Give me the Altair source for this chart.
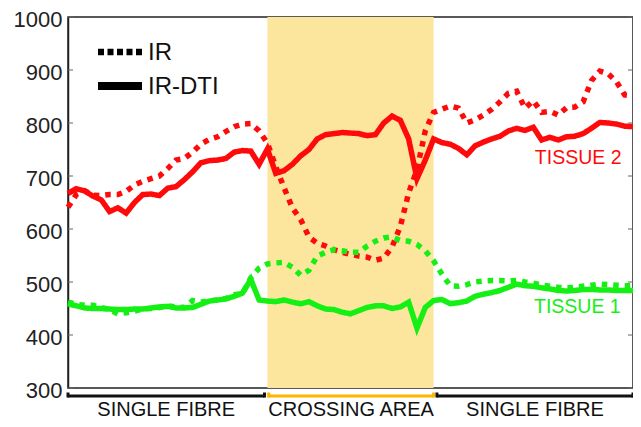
import altair as alt
import pandas as pd

# ---- data ----
idx = list(range(69))

ir_t2 = [641, 665, 672, 664, 663, 665, 665, 671, 683, 690,
         695, 700, 714, 730, 733, 745, 760, 769, 774, 784,
         793, 798, 799, 785, 762, 718, 678, 640, 618, 585,
         573, 568, 561, 556, 552, 549, 547, 541, 545, 566,
         605, 668, 712, 785, 820, 826, 832, 828, 800, 806,
         815, 826, 840, 856, 860, 828, 842, 820, 822, 815,
         829, 830, 840, 880, 898, 893, 878, 853, 851]

irdti_t2 = [667, 676, 672, 662, 655, 633, 640, 630, 650, 665,
            666, 663, 677, 680, 693, 708, 725, 729, 730, 733,
            745, 748, 747, 722, 751, 705, 710, 722, 738, 750,
            770, 778, 780, 782, 781, 780, 776, 778, 800, 813,
            805, 770, 695, 730, 770, 763, 760, 752, 740, 757,
            764, 770, 775, 785, 790, 786, 792, 768, 773, 768,
            774, 775, 780, 790, 801, 800, 798, 794, 793]

ir_t1 = [462, 458, 456, 456, 452, 448, 440, 442, 445, 449,
         450, 452, 455, 453, 452, 465, 462, 465, 466, 469,
         476, 478, 508, 526, 534, 536, 537, 528, 513, 522,
         549, 556, 561, 559, 556, 556, 568, 577, 583, 585,
         578, 577, 571, 559, 540, 515, 493, 492, 495, 500,
         502, 503, 503, 502, 503, 500, 498, 494, 492, 490,
         489, 490, 492, 494, 496, 495, 494, 493, 493]

irdti_t1 = [459, 455, 451, 450, 450, 449, 448, 448, 449, 449,
            451, 453, 454, 451, 451, 452, 458, 464, 466, 468,
            473, 479, 505, 466, 464, 463, 466, 462, 459, 463,
            455, 449, 448, 443, 440, 446, 452, 455, 455, 450,
            453, 462, 413, 452, 465, 467, 459, 461, 464, 473,
            477, 480, 484, 490, 496, 493, 492, 489, 487, 484,
            483, 484, 486, 486, 485, 485, 484, 484, 484]

y_ticks = [300, 400, 500, 600, 700, 800, 900, 1000]

region_labels = ["SINGLE FIBRE", "CROSSING AREA", "SINGLE FIBRE"]
region_start = [0, 24.15, 44.4]
region_end = [23.65, 44.0, 68]
region_colors = ["#111111", "#ffb400", "#111111"]

crossing_start, crossing_end = 24, 44

tissue_labels = ["TISSUE 2", "TISSUE 1"]
tissue_label_x = [61.4, 61.3]
tissue_label_y = [734, 452]

methods = ["IR", "IR-DTI"]
method_dash = [[5.5, 6], [1, 0]]
legend_dash = [[6, 3.5], [1, 0]]
tissues = ["TISSUE 1", "TISSUE 2"]
tissue_colors = ["#14f014", "#ff0a0a"]

# ---- build tables ----
rows = []
for series, method, tissue in [(irdti_t2, "IR-DTI", "TISSUE 2"), (irdti_t1, "IR-DTI", "TISSUE 1"),
                               (ir_t2, "IR", "TISSUE 2"), (ir_t1, "IR", "TISSUE 1")]:
    for i, v in zip(idx, series):
        rows.append({"x": i, "value": v, "method": method, "tissue": tissue,
                     "series": method + " " + tissue})
df = pd.DataFrame(rows)

regions = pd.DataFrame({"label": region_labels, "start": region_start, "end": region_end,
                        "color": region_colors})
regions["mid"] = (regions["start"] + regions["end"]) / 2

shade = pd.DataFrame({"x0": [crossing_start], "x1": [crossing_end]})
ticks_df = pd.DataFrame({"v": y_ticks})
tlabels = pd.DataFrame({"label": tissue_labels, "x": tissue_label_x, "y": tissue_label_y,
                        "tissue": ["TISSUE 2", "TISSUE 1"]})

W, H = 565, 371
FONT = "Liberation Sans"

xs = alt.Scale(domain=[0, 68], nice=False, zero=False)
ys = alt.Scale(domain=[300, 1000], nice=False, zero=False)
cs = alt.Scale(domain=tissues, range=tissue_colors)

shade_layer = alt.Chart(shade).mark_rect(color="#fce59d").encode(
    x=alt.X("x0:Q", scale=xs, axis=None), x2="x1:Q",
    y=alt.value(0), y2=alt.value(H))

lines = alt.Chart(df).mark_line(strokeWidth=5.5, strokeCap="butt", strokeJoin="miter").encode(
    x=alt.X("x:Q", scale=xs, axis=None),
    y=alt.Y("value:Q", scale=ys,
            axis=alt.Axis(values=y_ticks, format="d", title=None, grid=False, ticks=False,
                          labelFontSize=22, labelFont=FONT, labelColor="#222222",
                          labelPadding=6, labelOffset=2,
                          domainColor="#222222", domainWidth=1.5)),
    color=alt.Color("tissue:N", scale=cs, legend=None),
    strokeDash=alt.StrokeDash("method:N", scale=alt.Scale(domain=methods, range=method_dash),
                              legend=None),
    detail="series:N")

tick_left = alt.Chart(ticks_df).mark_rule(color="#666666", strokeWidth=1).encode(
    y=alt.Y("v:Q", scale=ys), x=alt.value(0), x2=alt.value(5))
tick_right = alt.Chart(ticks_df).mark_rule(color="#666666", strokeWidth=1).encode(
    y=alt.Y("v:Q", scale=ys), x=alt.value(W - 5), x2=alt.value(W))

tissue_text = alt.Chart(tlabels).mark_text(fontSize=19.5, font=FONT).encode(
    x=alt.X("x:Q", scale=xs), y=alt.Y("y:Q", scale=ys), text="label:N",
    color=alt.Color("tissue:N", scale=cs, legend=None))

br_h = alt.Chart(regions).mark_rule(strokeWidth=3).encode(
    x=alt.X("start:Q", scale=xs), x2="end:Q", y=alt.value(379),
    color=alt.Color("color:N", scale=None))
br_l = alt.Chart(regions).mark_rule(strokeWidth=3).encode(
    x=alt.X("start:Q", scale=xs), y=alt.value(375.5), y2=alt.value(380.5),
    color=alt.Color("color:N", scale=None))
br_r = alt.Chart(regions).mark_rule(strokeWidth=3).encode(
    x=alt.X("end:Q", scale=xs), y=alt.value(375.5), y2=alt.value(380.5),
    color=alt.Color("color:N", scale=None))
br_t = alt.Chart(regions).mark_text(fontSize=20, font=FONT, color="#111111", baseline="middle").encode(
    x=alt.X("mid:Q", scale=xs), y=alt.value(393), text="label:N")

# manual legend (line samples + labels)
legend_rows = [35, 69]
legend_layers = []
for name, dash, ly, sw in zip(methods, legend_dash, legend_rows, [6.5, 8]):
    ldf = pd.DataFrame({"label": [name]})
    legend_layers.append(
        alt.Chart(ldf).mark_rule(color="black", strokeWidth=sw, strokeDash=dash, strokeCap="butt").encode(
            x=alt.value(30), x2=alt.value(74), y=alt.value(ly)))
    legend_layers.append(
        alt.Chart(ldf).mark_text(fontSize=24, font=FONT, color="#111111", align="left",
                                 baseline="middle").encode(
            x=alt.value(80), y=alt.value(ly + 1), text="label:N"))

chart = alt.layer(shade_layer, tick_left, tick_right, lines, tissue_text,
                  br_h, br_l, br_r, br_t, *legend_layers).properties(
    width=W, height=H,
    autosize=alt.AutoSizeParams(type="none"),
    padding={"left": 60, "top": 9, "right": 0, "bottom": 31},
).configure_view(stroke="#222222", strokeWidth=1.5).resolve_scale(color="independent")

chart.save("out.html", embed_options={"renderer": "svg", "actions": False})
